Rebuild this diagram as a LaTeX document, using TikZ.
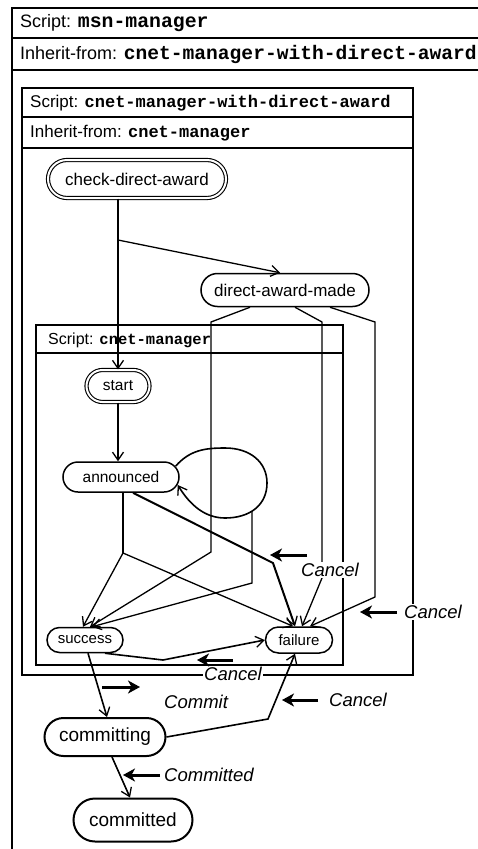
\documentclass[tikz,border=0pt]{standalone}
\usepackage{fontspec}
\setmainfont{Liberation Sans}
\setmonofont{Liberation Mono}
\usetikzlibrary{shapes.misc,arrows.meta,calc}

\newcommand{\cname}[1]{{\ttfamily\bfseries #1}}

\tikzset{
  statebox/.style={rounded rectangle, draw, line width=1.5pt, inner sep=0pt},
  initbox/.style={statebox, double, double distance=2pt, line width=1.1pt},
  trans/.style={line width=1.3pt, -{Straight Barb[length=8pt,width=11pt,line width=1.3pt]}},
  eventarrow/.style={line width=3pt, -{Stealth[length=12pt,width=13pt,inset=3.5pt]}},
  eventlabel/.style={anchor=west, font=\fontsize{18.5}{20}\selectfont\itshape, fill=white, inner sep=1pt},
  boxline/.style={line width=1.5pt},
  boxtitle/.style={anchor=west, inner sep=0pt},
}

\begin{document}
\begin{tikzpicture}[x=1pt, y=-1pt]
  \useasboundingbox (0,0) rectangle (478,849);
  \clip (0,0) rectangle (478,849);

  % msn-manager
  \draw[boxline] (12,8) rectangle (495,870);
  \draw[boxline] (12,38) -- (495,38) (12,70) -- (495,70);
  \node[boxtitle] (msnS) at (20,23) {\fontsize{18}{20}\selectfont Script: \fontsize{19.8}{20}\selectfont\cname{msn-manager}};
  \node[boxtitle] (msnI) at (20,54) {\fontsize{18}{20}\selectfont Inherit-from: \fontsize{19.6}{20}\selectfont\cname{cnet-manager-with-direct-award}};

  % cnet-manager-with-direct-award
  \draw[boxline] (22,88) rectangle (413,675);
  \draw[boxline] (22,117) -- (413,117) (22,148) -- (413,148);
  \node[boxtitle] (cdaS) at (30,103) {\fontsize{17}{19}\selectfont Script: \cname{cnet-manager-with-direct-award}};
  \node[boxtitle] (cdaI) at (30,133) {\fontsize{17}{19}\selectfont Inherit-from: \cname{cnet-manager}};

  % cnet-manager
  \draw[boxline] (36,325) rectangle (343,665);
  \draw[boxline] (36,353) -- (343,353);
  \node[boxtitle] (cnS) at (48,340) {\fontsize{16}{18}\selectfont Script: \fontsize{15.5}{18}\selectfont\cname{cnet-manager}};

  % states
  \node[initbox, minimum width=178pt, minimum height=38pt, font=\fontsize{17}{19}\selectfont] (cda) at (137,179) {check-direct-award};
  \node[statebox, minimum width=168pt, minimum height=33pt, font=\fontsize{17}{19}\selectfont] (dam) at (285,290) {direct-award-made};
  \node[initbox, minimum width=63pt, minimum height=32pt, font=\fontsize{15.5}{17}\selectfont] (start) at (118,386) {start};
  \node[statebox, minimum width=116pt, minimum height=30pt, font=\fontsize{15.5}{17}\selectfont] (ann) at (121,477) {announced};
  \node[statebox, minimum width=76pt, minimum height=25pt, font=\fontsize{15}{17}\selectfont] (succ) at (85,640) {success};
  \node[statebox, minimum width=67pt, minimum height=26pt, font=\fontsize{15}{17}\selectfont] (fail) at (299,640) {failure};
  \node[statebox, line width=2pt, minimum width=121pt, minimum height=38pt, font=\fontsize{19}{21}\selectfont] (cing) at (105,737) {committing};
  \node[statebox, line width=2pt, minimum width=119pt, minimum height=43pt, font=\fontsize{19}{21}\selectfont] (cted) at (133,820) {committed};

  % check-direct-award
  \coordinate (cdaJ) at (118,240);
  \draw[trans] (start.north |- cda.south) -- (start.north);
  \draw[trans] (cdaJ) -- ([xshift=-5pt]dam.north);

  % direct-award-made
  \draw[trans] ([xshift=-35pt]dam.south) -- (211,322) -- (211,552) -- ([xshift=5pt]succ.north);
  \draw[trans] ([xshift=10pt]dam.south) -- (322,322) -- (322,578) -- ([xshift=3pt]fail.north);
  \draw[trans] ([xshift=45pt]dam.south) -- (375,322) -- (375,597) -- ([xshift=11pt]fail.north);

  % start, announced
  \draw[trans] (start.south) -- (start.south |- ann.north);
  \coordinate (annJ) at (123,553);
  \draw[line width=1.3pt] ([xshift=2pt]ann.south) -- (annJ);
  \draw[trans] (annJ) -- ([xshift=-2pt]succ.north);
  \draw[trans] (annJ) -- ([xshift=-6pt]fail.north);
  \draw[trans, line width=2pt] ([xshift=12pt]ann.south) -- (273,563) -- ([xshift=-4pt]fail.north);
  \draw[trans, line width=1.6pt] ($(ann.east)+(-4,-11)$) .. controls (190,450) and (205,448) .. (225,448)
    .. controls (250,448) and (267,462) .. (267,483)
    .. controls (267,505) and (250,518) .. (225,518)
    .. controls (205,518) and (190,505) .. ($(ann.east)+(-2,8)$);
  \coordinate (loopB) at (252,511);
  \draw[trans] (loopB) -- (252,583) -- ([xshift=7pt]succ.north);

  % success, committing
  \draw[trans, line width=1.6pt] ([xshift=20pt]succ.south) -- (163,660) -- (fail.west);
  \draw[trans, line width=1.6pt] ([xshift=3pt]succ.south) -- ([xshift=2pt]cing.north);
  \draw[trans, line width=1.6pt] (cing.east) -- (268,719) -- ([xshift=-4pt]fail.south);
  \draw[trans, line width=1.6pt] ([xshift=7pt]cing.south) -- ([xshift=-3pt]cted.north);

  % events
  \node[eventlabel] (evC1) at (300,570) {Cancel};
  \draw[eventarrow] ($(evC1.west)+(7,-15)$) -- ++(-37,0);
  \node[eventlabel] (evC2) at (403,612) {Cancel};
  \draw[eventarrow] ($(evC2.west)+(-6,0)$) -- ++(-37,0);
  \node[eventlabel] (evC3) at (203,674) {Cancel};
  \draw[eventarrow] ($(evC3.west)+(30,-14)$) -- ++(-36,0);
  \node[eventlabel] (evCm) at (163,702) {Commit};
  \draw[eventarrow] ($(evCm.west)+(-61,-15)$) -- ++(38,0);
  \node[eventlabel] (evC4) at (328,700) {Cancel};
  \draw[eventarrow] ($(evC4.west)+(-10,0)$) -- ++(-36,0);
  \node[eventlabel] (evCd) at (163,775) {Committed};
  \draw[eventarrow] ($(evCd.west)+(-3,0)$) -- ++(-37,0);
\end{tikzpicture}
\end{document}
